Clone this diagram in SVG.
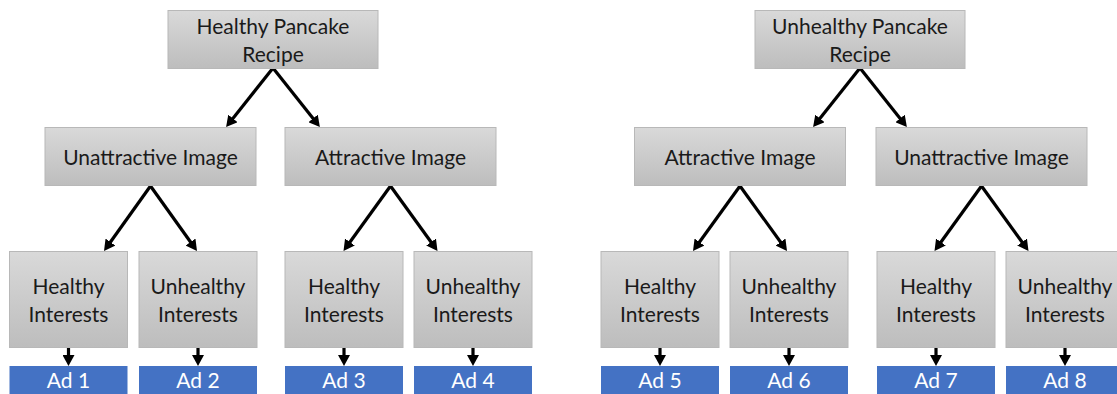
<svg xmlns="http://www.w3.org/2000/svg" width="1117" height="394" viewBox="0 0 1117 394">
<defs>
<linearGradient id="g" x1="0" y1="0" x2="0" y2="1">
<stop offset="0" stop-color="#d9d9d9"/>
<stop offset="1" stop-color="#bdbdbd"/>
</linearGradient>
<marker id="ah" viewBox="0 0 10 10" refX="3" refY="5" markerWidth="11" markerHeight="12" markerUnits="userSpaceOnUse" orient="auto" preserveAspectRatio="none">
<path d="M0,0 L10,5 L0,10 z" fill="#000"/>
</marker>
</defs>
<style>
.box{fill:url(#g);stroke:#b8b8b8;stroke-width:1}
.ad{fill:#4472c4}
.t{font-family:Lato,"Liberation Sans",sans-serif;font-size:21px;fill:#1a1a1a;text-anchor:middle}
.ta{font-family:Lato,"Liberation Sans",sans-serif;font-size:21px;fill:#fff;text-anchor:middle}
.c{stroke:#000;stroke-width:3.2;fill:none;marker-end:url(#ah)}
</style>
<rect width="1117" height="394" fill="#fff"/>
<g id="connectors">
<line class="c" x1="273" y1="68" x2="230.9" y2="121.0"/>
<line class="c" x1="273" y1="68" x2="315.1" y2="121.0"/>
<line class="c" x1="150.5" y1="186" x2="108.5" y2="244.7"/>
<line class="c" x1="150.5" y1="186" x2="192.5" y2="244.7"/>
<line class="c" x1="390.5" y1="186" x2="348.0" y2="244.7"/>
<line class="c" x1="390.5" y1="186" x2="433.0" y2="244.7"/>
<line class="c" x1="860" y1="68" x2="817.9" y2="121.0"/>
<line class="c" x1="860" y1="68" x2="902.1" y2="121.0"/>
<line class="c" x1="740" y1="186" x2="697.5" y2="244.7"/>
<line class="c" x1="740" y1="186" x2="782.5" y2="244.7"/>
<line class="c" x1="981.5" y1="186" x2="939.0" y2="244.7"/>
<line class="c" x1="981.5" y1="186" x2="1024.0" y2="244.7"/>
<line class="c" x1="68.5" y1="348" x2="68.5" y2="358.3"/>
<line class="c" x1="198" y1="348" x2="198" y2="358.3"/>
<line class="c" x1="344" y1="348" x2="344" y2="358.3"/>
<line class="c" x1="473" y1="348" x2="473" y2="358.3"/>
<line class="c" x1="660" y1="348" x2="660" y2="358.3"/>
<line class="c" x1="789" y1="348" x2="789" y2="358.3"/>
<line class="c" x1="936" y1="348" x2="936" y2="358.3"/>
<line class="c" x1="1065" y1="348" x2="1065" y2="358.3"/>
</g>
<g id="root-healthy"><rect class="box" x="168" y="10.5" width="210" height="58"/><text class="t" x="273" y="34">Healthy Pancake</text><text class="t" x="273" y="62">Recipe</text></g>
<g id="l-unattractive"><rect class="box" x="45" y="127.5" width="211" height="58"/><text class="t" x="150.5" y="165">Unattractive Image</text></g>
<g id="l-attractive"><rect class="box" x="285" y="127.5" width="211" height="58"/><text class="t" x="390.5" y="165">Attractive Image</text></g>
<g id="n1"><rect class="box" x="9.5" y="251.5" width="118" height="96"/><text class="t" x="68.5" y="294">Healthy</text><text class="t" x="68.5" y="322">Interests</text></g>
<g id="n2"><rect class="box" x="139" y="251.5" width="118" height="96"/><text class="t" x="198" y="294">Unhealthy</text><text class="t" x="198" y="322">Interests</text></g>
<g id="n3"><rect class="box" x="285" y="251.5" width="118" height="96"/><text class="t" x="344" y="294">Healthy</text><text class="t" x="344" y="322">Interests</text></g>
<g id="n4"><rect class="box" x="414" y="251.5" width="118" height="96"/><text class="t" x="473" y="294">Unhealthy</text><text class="t" x="473" y="322">Interests</text></g>
<g id="ad1"><rect class="ad" x="9.5" y="366" width="118" height="30"/><text class="ta" x="68.5" y="388">Ad 1</text></g>
<g id="ad2"><rect class="ad" x="139" y="366" width="118" height="30"/><text class="ta" x="198" y="388">Ad 2</text></g>
<g id="ad3"><rect class="ad" x="285" y="366" width="118" height="30"/><text class="ta" x="344" y="388">Ad 3</text></g>
<g id="ad4"><rect class="ad" x="414" y="366" width="118" height="30"/><text class="ta" x="473" y="388">Ad 4</text></g>
<g id="root-unhealthy"><rect class="box" x="755" y="10.5" width="210" height="58"/><text class="t" x="860" y="34">Unhealthy Pancake</text><text class="t" x="860" y="62">Recipe</text></g>
<g id="r-attractive"><rect class="box" x="634.5" y="127.5" width="211" height="58"/><text class="t" x="740" y="165">Attractive Image</text></g>
<g id="r-unattractive"><rect class="box" x="876" y="127.5" width="211" height="58"/><text class="t" x="981.5" y="165">Unattractive Image</text></g>
<g id="n5"><rect class="box" x="601" y="251.5" width="118" height="96"/><text class="t" x="660" y="294">Healthy</text><text class="t" x="660" y="322">Interests</text></g>
<g id="n6"><rect class="box" x="730" y="251.5" width="118" height="96"/><text class="t" x="789" y="294">Unhealthy</text><text class="t" x="789" y="322">Interests</text></g>
<g id="n7"><rect class="box" x="877" y="251.5" width="118" height="96"/><text class="t" x="936" y="294">Healthy</text><text class="t" x="936" y="322">Interests</text></g>
<g id="n8"><rect class="box" x="1006" y="251.5" width="118" height="96"/><text class="t" x="1065" y="294">Unhealthy</text><text class="t" x="1065" y="322">Interests</text></g>
<g id="ad5"><rect class="ad" x="601" y="366" width="118" height="30"/><text class="ta" x="660" y="388">Ad 5</text></g>
<g id="ad6"><rect class="ad" x="730" y="366" width="118" height="30"/><text class="ta" x="789" y="388">Ad 6</text></g>
<g id="ad7"><rect class="ad" x="877" y="366" width="118" height="30"/><text class="ta" x="936" y="388">Ad 7</text></g>
<g id="ad8"><rect class="ad" x="1006" y="366" width="118" height="30"/><text class="ta" x="1065" y="388">Ad 8</text></g>
</svg>
